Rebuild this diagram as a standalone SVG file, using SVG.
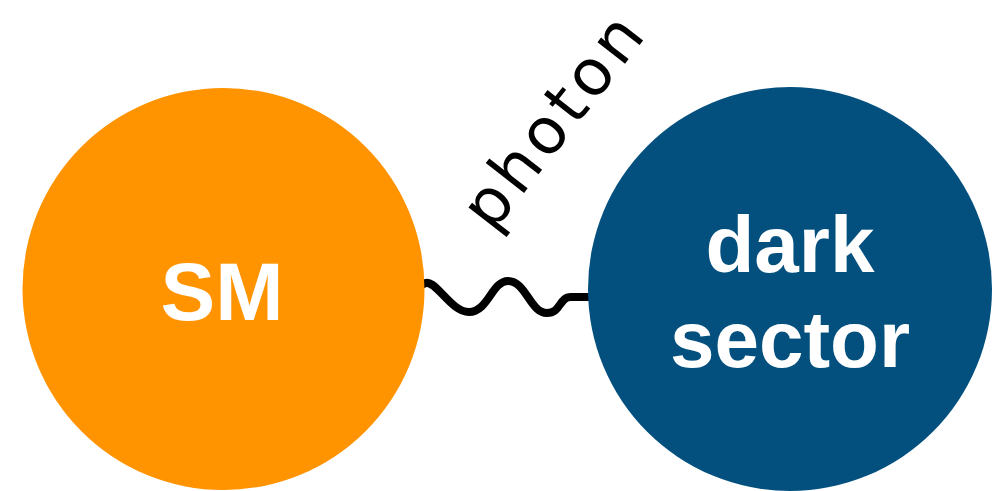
<svg xmlns="http://www.w3.org/2000/svg" width="993" height="491" viewBox="0 0 993 491">
  <style>
    .label { font-family: "Liberation Sans", Arial, Helvetica, sans-serif; font-weight: bold; fill: #ffffff; text-anchor: middle; }
    .photon { font-family: "DejaVu Sans", "Noto Sans", sans-serif; font-size: 64px; fill: #000000; text-anchor: middle; letter-spacing: 5px; }
    .wave { fill: none; stroke: #000000; stroke-width: 8; stroke-linecap: round; stroke-linejoin: round; }
  </style>
  <rect width="993" height="491" fill="#ffffff"/>
  <g id="connectors">
    <path class="wave" d="M424,284 C434,276 450,312 469,312 C488,312 492,281 508,281 C526,281 530,313 547,313 C561,313 559,297 571,297 L592,297"/>
    <text class="photon" transform="translate(571,133) rotate(-52)" x="0" y="0">photon</text>
  </g>
  <g id="node-sm">
    <circle cx="223.5" cy="289" r="201" fill="#FF9300"/>
    <text class="label" x="222" y="320" font-size="82">SM</text>
  </g>
  <g id="node-dark-sector">
    <circle cx="790" cy="289" r="202" fill="#03507F"/>
    <text class="label" x="790" y="272" font-size="80">dark</text>
    <text class="label" x="790" y="367" font-size="80">sector</text>
  </g>
</svg>
